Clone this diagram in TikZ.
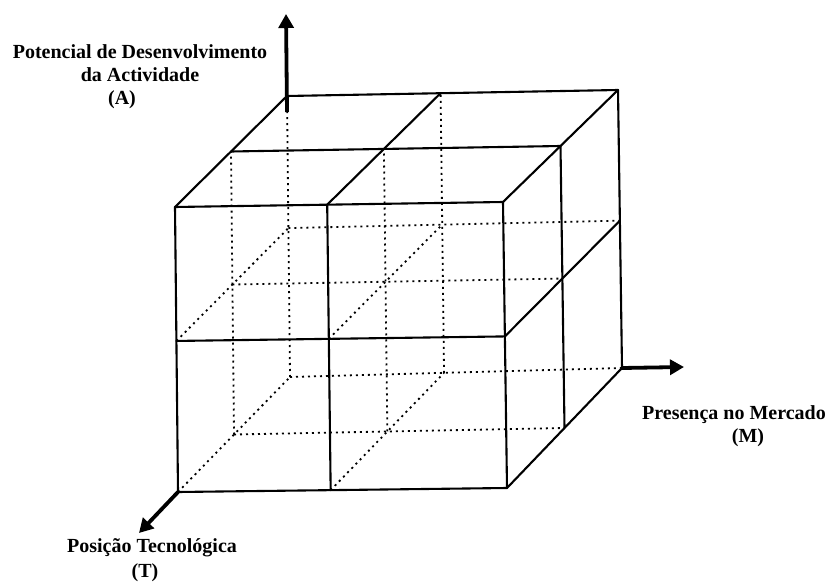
\documentclass[tikz,border=0pt]{standalone}
\usepackage{fontspec}
\setmainfont{Liberation Serif}
\usetikzlibrary{arrows.meta}
\begin{document}
\begin{tikzpicture}[x=1pt,y=-1pt,
  edge/.style={line width=2.1pt,line cap=round,line join=round},
  hidden/.style={line width=1.8pt,dash pattern=on 2pt off 4pt},
  axis/.style={line width=3.8pt,-{Triangle[length=14pt,width=15pt]}},
  lbl/.style={font=\fontsize{20}{23}\selectfont\bfseries,align=center,inner sep=0pt}]
\useasboundingbox (0,0) rectangle (827,583);
% lattice points of the 2x2x2 cube (trilinear fit of the eight corners)
\foreach \i/\u in {0/0,1/0.464,2/1}{
  \foreach \j/\v in {0/0,1/0.53,2/1}{
    \foreach \k/\w in {0/0,1/0.5,2/1}{
      \pgfmathsetmacro{\xf}{(1-\v)*((1-\u)*178+\u*507)+\v*((1-\u)*175+\u*503)}
      \pgfmathsetmacro{\yf}{(1-\v)*((1-\u)*492+\u*488)+\v*((1-\u)*207+\u*202)}
      \pgfmathsetmacro{\xb}{(1-\v)*((1-\u)*290+\u*622)+\v*((1-\u)*287+\u*618)}
      \pgfmathsetmacro{\yb}{(1-\v)*((1-\u)*377+\u*368)+\v*((1-\u)*96+\u*90)}
      \coordinate (c\i\j\k) at ({\xf+\w*(\xb-\xf)},{\yf+\w*(\yb-\yf)});
}}}
% hidden lines
\foreach \j in {0,1}{\foreach \k in {1,2}{\draw[hidden] (c0\j\k) -- (c2\j\k);}}
\foreach \i in {0,1}{\foreach \k in {1,2}{\draw[hidden] (c\i0\k) -- (c\i2\k);}}
\foreach \i in {0,1}{\foreach \j in {0,1}{\draw[hidden] (c\i\j0) -- (c\i\j2);}}
% visible edges
\foreach \j in {0,1,2}{\draw[edge] (c0\j0) -- (c2\j0);}
\foreach \k in {1,2}{\draw[edge] (c02\k) -- (c22\k);}
\foreach \i in {0,1,2}{\draw[edge] (c\i00) -- (c\i20);}
\foreach \k in {1,2}{\draw[edge] (c20\k) -- (c22\k);}
\foreach \i in {0,1,2}{\draw[edge] (c\i20) -- (c\i22);}
\foreach \j in {0,1}{\draw[edge] (c2\j0) -- (c2\j2);}
% axes
\coordinate (Abase) at (287,112);
\coordinate (Atip) at (286,14);
\coordinate (Mtip) at (684,367);
\coordinate (Ttip) at (139,533);
\draw[axis] (Abase) -- (Atip);
\draw[axis] (c202) -- (Mtip);
\draw[axis] (c000) -- (Ttip);
% labels (anchor base = baseline of the last line)
\node[lbl,anchor=base] (la) at (140,105) {Potencial de Desenvolvimento\\ da Actividade\hspace*{18pt}\\ (A)\hspace*{36pt}};
\node[lbl,anchor=base] (lm) at (734,442) {Presença no Mercado\\ \hspace*{28pt}(M)};
\node[lbl,anchor=base] (lt) at (152,577) {Posição Tecnológica\\[2pt] (T)\hspace*{14pt}};
\end{tikzpicture}
\end{document}
